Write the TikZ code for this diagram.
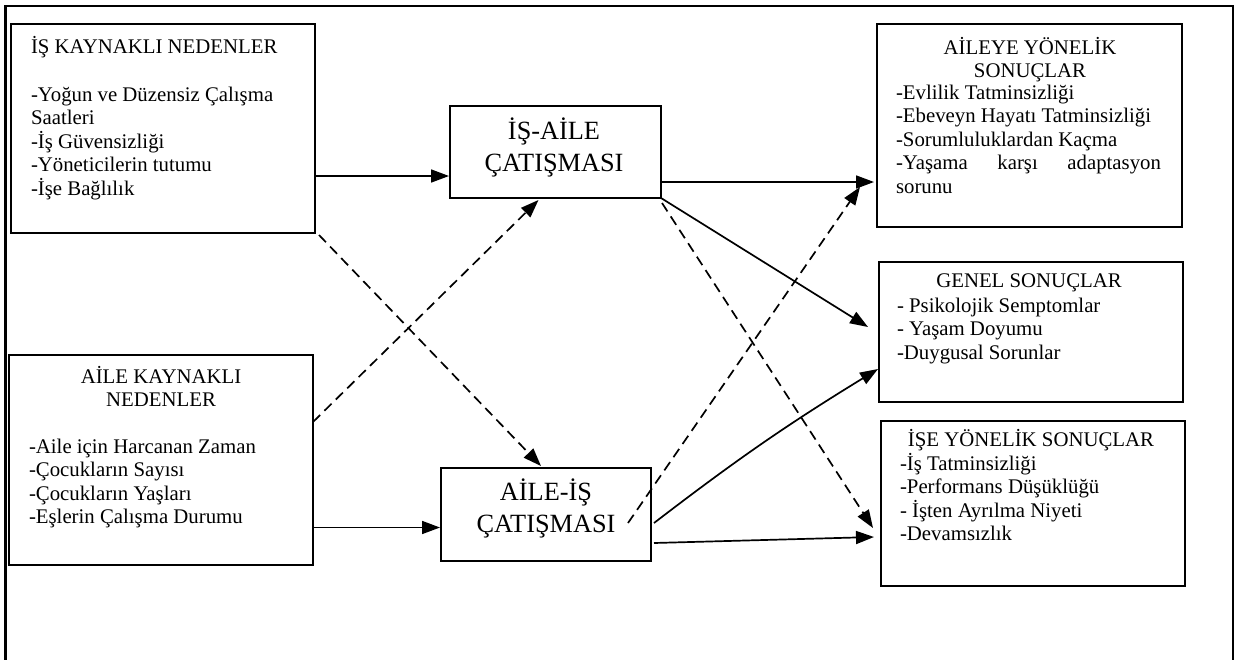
\documentclass[tikz,border=0pt]{standalone}
\usepackage{fontspec}
\setmainfont{Liberation Serif}
\usetikzlibrary{arrows.meta}
\begin{document}
\begin{tikzpicture}[x=1pt,y=-1pt,
  box/.style={draw, line width=1.8pt, outer sep=0pt, inner sep=0pt, anchor=north west},
  txt/.style={inner sep=0pt, outer sep=0pt, font=\fontsize{20.8}{23.6}\selectfont},
  itemtxt/.style={txt, align=left, anchor=base west},
  ttl/.style={txt, align=center, anchor=base},
  big/.style={inner sep=0pt, align=center, anchor=base, font=\fontsize{26.3}{32}\selectfont},
  conn/.style={line width=1.7pt, -{Triangle[length=18pt,width=13pt]}},
  dconn/.style={conn, dash pattern=on 10pt off 6pt}]
\useasboundingbox (0,0) rectangle (1240,659);
% outer frame (open at the bottom)
\draw[line width=2.2pt] (5.5,660) -- (5.5,6) -- (1233,6) -- (1233,660);

% boxes
\node[box, minimum width=304pt, minimum height=209pt] (A) at (11,24) {};
\node[box, minimum width=304pt, minimum height=210pt] (B) at (9,355) {};
\node[box, minimum width=211pt, minimum height=92pt] (C) at (450,106) {};
\node[box, minimum width=210pt, minimum height=93pt] (D) at (441,468) {};
\node[box, minimum width=305pt, minimum height=203pt] (E) at (877,24) {};
\node[box, minimum width=304pt, minimum height=140pt] (F) at (879,262) {};
\node[box, minimum width=304pt, minimum height=165pt] (G) at (881,421) {};

% texts of A (anchor = baseline of the last line)
\node[itemtxt] (Atxt) at (31,195.4) {İŞ KAYNAKLI NEDENLER\\[24.4pt]
-Yoğun ve Düzensiz Çalışma\\Saatleri\\-İş Güvensizliği\\-Yöneticilerin tutumu\\-İşe Bağlılık};
% texts of B
\node[ttl] (Bttl) at (161,406.6) {AİLE KAYNAKLI\\NEDENLER};
\node[itemtxt] (Btxt) at (29,523.8) {-Aile için Harcanan Zaman\\-Çocukların Sayısı\\-Çocukların Yaşları\\-Eşlerin Çalışma Durumu};
% texts of C and D
\node[big] (Ctxt) at (554,171) {İŞ-AİLE\\ÇATIŞMASI};
\node[big] (Dtxt) at (546,532) {AİLE-İŞ\\ÇATIŞMASI};
% texts of E
\node[ttl] (Ettl) at (1030,77.6) {AİLEYE YÖNELİK\\SONUÇLAR};
\node[itemtxt] (Etxt) at (896,193.4) {-Evlilik Tatminsizliği\\-Ebeveyn Hayatı Tatminsizliği\\-Sorumluluklardan Kaçma\\\makebox[265pt][s]{-Yaşama karşı adaptasyon}\\sorunu};
% texts of F
\node[ttl] (Fttl) at (1029,287) {GENEL SONUÇLAR};
\node[itemtxt] (Ftxt) at (897,359.2) {- Psikolojik Semptomlar\\- Yaşam Doyumu\\-Duygusal Sorunlar};
% texts of G
\node[ttl] (Gttl) at (1031,446) {İŞE YÖNELİK SONUÇLAR};
\node[itemtxt] (Gtxt) at (900,540.8) {-İş Tatminsizliği\\-Performans Düşüklüğü\\- İşten Ayrılma Niyeti\\-Devamsızlık};

% connectors
\draw[conn] ([yshift=-47.5pt]A.east) -- ([xshift=-1pt,yshift=-24pt]C.west);
\draw[conn] ([yshift=-67.5pt]B.east) -- ([xshift=-1pt,yshift=-13pt]D.west);
\draw[dconn] ([yshift=38pt]B.east) -- ([xshift=-17pt,yshift=-2pt]C.south);
\draw[dconn] ([xshift=4pt,yshift=-2pt]A.south east) -- ([xshift=-5pt,yshift=2pt]D.north);
\draw[conn] ([yshift=-30pt]C.east) -- ([xshift=-3pt,yshift=-56.5pt]E.west);
\draw[conn] (C.south east) -- ([xshift=-11pt,yshift=5pt]F.west);
\draw[dconn] ([xshift=1pt,yshift=-5pt]C.south east) -- ([xshift=-8pt,yshift=-24.5pt]G.west);
\draw[dconn] ([xshift=-23pt,yshift=-8.5pt]D.east) -- ([xshift=-17pt,yshift=-61.5pt]E.west);
\draw[conn] ([xshift=3pt,yshift=-8.5pt]D.east) to[bend left=3] ([xshift=-1pt,yshift=-37pt]F.west);
\draw[conn] ([xshift=3pt,yshift=-28.5pt]D.east) -- ([xshift=-7pt,yshift=-33.5pt]G.west);
\end{tikzpicture}
\end{document}
